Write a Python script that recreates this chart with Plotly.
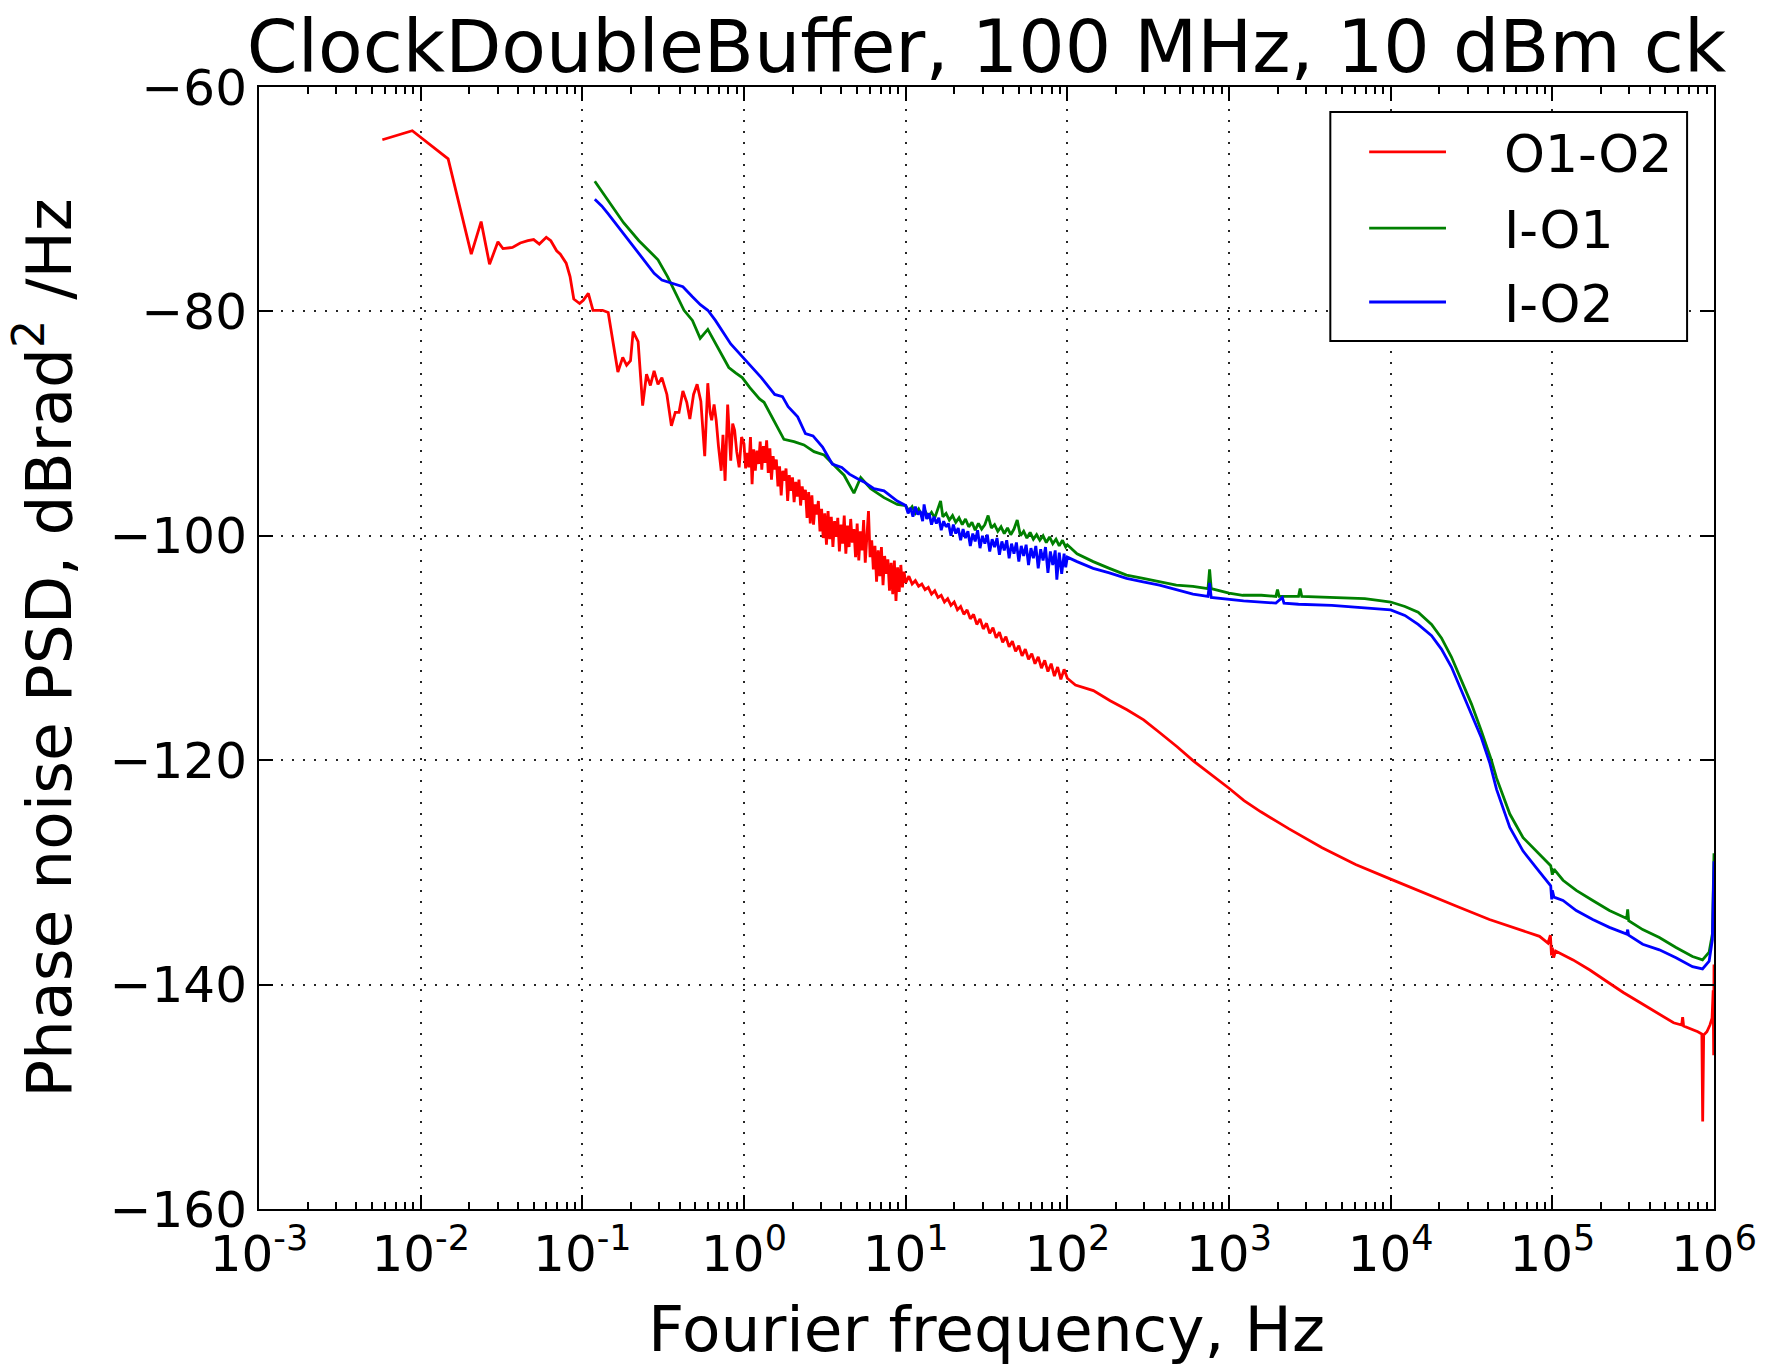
import plotly.graph_objects as go

# ---------------- data ----------------
# frequency given as log10(Hz) exponent, PSD in dBrad^2/Hz

o1o2_exp = [
    -2.237, -2.052, -1.830, -1.687, -1.626, -1.574, -1.522, -1.491, -1.432, -1.384,
    -1.337, -1.301, -1.266, -1.223, -1.195, -1.159, -1.136, -1.100, -1.076, -1.053,
    -1.017, -0.994, -0.963, -0.934, -0.875, -0.840, -0.780, -0.750, -0.726, -0.702,
    -0.686, -0.670, -0.655, -0.627, -0.603, -0.579, -0.556, -0.532, -0.508, -0.477,
    -0.449, -0.425, -0.402, -0.378, -0.354, -0.335, -0.312, -0.290, -0.267, -0.243,
    -0.224, -0.210, -0.200, -0.185, -0.172, -0.158, -0.141, -0.130, -0.117, -0.101,
    -0.090, -0.082, -0.070, -0.058, -0.045, -0.030, -0.015,
    0.00, 0.01, 0.02, 0.03, 0.04, 0.05, 0.06, 0.07, 0.08, 0.09,
    0.10, 0.11, 0.12, 0.13, 0.14, 0.15, 0.16, 0.17, 0.18, 0.19,
    0.20, 0.21, 0.22, 0.23, 0.24, 0.25, 0.26, 0.27, 0.28, 0.29,
    0.30, 0.31, 0.32, 0.33, 0.34, 0.35, 0.36, 0.37, 0.38, 0.39,
    0.40, 0.41, 0.42, 0.43, 0.44, 0.45, 0.46, 0.47, 0.48, 0.49,
    0.50, 0.51, 0.52, 0.53, 0.54, 0.55, 0.56, 0.57, 0.58, 0.59,
    0.60, 0.61, 0.62, 0.63, 0.64, 0.65, 0.66, 0.67, 0.68, 0.69,
    0.70, 0.71, 0.72, 0.73, 0.74, 0.75, 0.76, 0.77, 0.78, 0.79,
    0.80, 0.81, 0.82, 0.83, 0.84, 0.85, 0.86, 0.87, 0.88, 0.89,
    0.90, 0.91, 0.92, 0.93, 0.94, 0.95, 0.96, 0.97, 0.98, 0.99, 1.00,
    1.02, 1.04, 1.06, 1.08, 1.10, 1.12, 1.14, 1.16, 1.18, 1.20,
    1.22, 1.24, 1.26, 1.28, 1.30, 1.32, 1.34, 1.36, 1.38, 1.40,
    1.42, 1.44, 1.46, 1.48, 1.50, 1.52, 1.54, 1.56, 1.58, 1.60,
    1.62, 1.64, 1.66, 1.68, 1.70, 1.72, 1.74, 1.76, 1.78, 1.80,
    1.82, 1.84, 1.86, 1.88, 1.90, 1.92, 1.94, 1.96, 1.98, 2.00,
    2.05, 2.161, 2.265, 2.369, 2.472, 2.576, 2.679, 2.783, 2.886, 3.000,
    3.093, 3.197, 3.300, 3.369, 3.576, 3.783, 4.000, 4.197, 4.404, 4.611,
    4.818, 4.921, 4.973, 4.988, 4.995, 5.000, 5.008, 5.020, 5.128, 5.232,
    5.335, 5.439, 5.542, 5.646, 5.750, 5.800, 5.806, 5.812, 5.853, 5.900,
    5.925, 5.930, 5.936, 5.956, 5.975, 5.988, 5.995, 5.998, 6.000,
]
o1o2_psd = [
    -64.7, -63.9, -66.4, -74.9, -72.0, -75.8, -73.8, -74.4, -74.3, -73.9,
    -73.7, -73.6, -74.0, -73.4, -73.7, -74.6, -74.9, -75.7, -76.9, -78.9,
    -79.3, -79.0, -78.4, -79.9, -79.9, -80.1, -85.4, -84.1, -84.8, -84.4,
    -81.8, -82.3, -82.7, -88.4, -85.6, -86.6, -85.3, -86.5, -85.9, -87.4,
    -90.2, -89.0, -89.0, -87.1, -88.1, -89.6, -87.4, -86.5, -88.0, -92.9,
    -86.4, -89.0, -89.7, -88.3, -89.7, -92.0, -94.2, -91.0, -95.1, -88.3,
    -92.0, -93.3, -90.0, -90.6, -92.5, -93.9, -91.2,
    -91.8, -94.0, -92.6, -93.9, -91.2, -95.4, -92.3, -94.2, -92.4, -93.6,
    -91.6, -94.1, -92.0, -93.5, -91.5, -94.4, -92.2, -95.0, -92.9, -94.1,
    -93.2, -95.6, -93.8, -96.4, -94.2, -95.1, -94.0, -96.9, -94.6, -96.0,
    -94.8, -97.0, -95.2, -96.5, -95.0, -97.3, -95.6, -96.8, -95.9, -98.4,
    -96.1, -98.9, -96.4, -99.0, -97.2, -98.1, -96.9, -99.6, -97.6, -100.2,
    -98.0, -100.8, -97.8, -100.3, -98.3, -101.0, -98.7, -100.1, -98.4, -101.4,
    -99.0, -100.7, -98.2, -101.6, -99.1, -101.0, -98.5, -100.6, -99.4, -101.9,
    -98.9, -102.2, -99.6, -101.3, -98.6, -102.4, -100.2, -97.8, -101.9, -100.4,
    -103.0, -100.9, -104.1, -101.3, -103.6, -101.0, -104.4, -101.8, -103.4, -102.1,
    -104.9, -102.4, -105.2, -102.2, -105.8, -102.8, -105.0, -102.6, -104.6, -103.2, -104.2,
    -103.6, -104.3, -104.0, -104.5, -104.3, -104.8, -104.6, -105.2, -104.9, -105.5,
    -105.3, -105.9, -105.6, -106.2, -105.9, -106.6, -106.3, -107.0, -106.6, -107.4,
    -107.0, -107.9, -107.4, -108.3, -107.8, -108.7, -108.2, -109.1, -108.6, -109.5,
    -109.0, -109.9, -109.4, -110.3, -109.8, -110.7, -110.1, -111.0, -110.5, -111.4,
    -110.8, -111.8, -111.1, -112.1, -111.4, -112.5, -111.7, -112.8, -111.9, -112.7,
    -113.3, -113.8, -114.7, -115.5, -116.4, -117.6, -118.8, -120.1, -121.2, -122.5,
    -123.6, -124.6, -125.5, -126.1, -127.8, -129.3, -130.6, -131.8, -133.0, -134.2,
    -135.2, -135.7, -136.3, -135.6, -137.4, -136.7, -137.6, -137.0, -137.8, -138.7,
    -139.7, -140.7, -141.6, -142.5, -143.4, -143.6, -142.9, -143.7, -143.9, -144.2,
    -144.4, -152.2, -144.5, -144.2, -143.6, -143.0, -140.5, -146.3, -138.2,
]

io1_exp = [
    -0.923, -0.880, -0.840, -0.745, -0.650, -0.590, -0.532, -0.473, -0.425, -0.371,
    -0.319, -0.271, -0.224, -0.165, -0.094, -0.050, -0.011, 0.036, 0.096, 0.124,
    0.186, 0.247, 0.309, 0.371, 0.433, 0.495, 0.577, 0.619, 0.680, 0.722,
    0.784, 0.866, 0.948,
    1.00, 1.02, 1.04, 1.06, 1.08, 1.10, 1.12, 1.14, 1.16, 1.18,
    1.20, 1.216, 1.23, 1.25, 1.27, 1.29, 1.31, 1.33, 1.35, 1.37,
    1.39, 1.41, 1.43, 1.45, 1.47, 1.49, 1.51, 1.53, 1.55, 1.57,
    1.59, 1.61, 1.63, 1.65, 1.67, 1.69, 1.71, 1.73, 1.75, 1.77,
    1.79, 1.81, 1.83, 1.85, 1.87, 1.89, 1.91, 1.93, 1.95, 1.97,
    1.99, 2.00,
    2.06, 2.16, 2.26, 2.366, 2.469, 2.57, 2.674, 2.777, 2.87, 2.88,
    2.89, 3.00, 3.085, 3.20, 3.29, 3.30, 3.31, 3.43, 3.44, 3.45,
    3.636, 3.84, 3.945, 4.00, 4.088, 4.17, 4.253, 4.314, 4.376, 4.438,
    4.50, 4.561, 4.623, 4.655, 4.737, 4.819, 4.901, 4.963, 4.99, 5.00,
    5.01, 5.066, 5.148, 5.25, 5.353, 5.46, 5.466, 5.472, 5.559, 5.662,
    5.765, 5.867, 5.929, 5.97, 5.99, 6.00,
]
io1_psd = [
    -68.4, -69.3, -70.1, -72.1, -73.7, -74.6, -75.4, -76.9, -78.3, -79.9,
    -80.8, -82.4, -81.6, -83.2, -85.0, -85.5, -85.9, -86.8, -87.8, -88.1,
    -89.8, -91.4, -91.6, -91.9, -92.5, -92.8, -94.0, -94.6, -96.2, -94.8,
    -95.8, -96.6, -97.2,
    -97.3, -97.8, -97.4, -98.0, -97.6, -98.2, -97.8, -98.3, -97.9, -98.4,
    -97.5, -96.9, -98.3, -98.0, -98.6, -98.2, -98.8, -98.4, -99.0, -98.5,
    -99.2, -98.8, -99.5, -98.9, -99.4, -99.0, -98.2, -99.3, -99.0, -99.6,
    -99.2, -99.8, -99.3, -99.9, -99.4, -98.6, -100.0, -99.6, -100.2, -99.7,
    -100.3, -99.9, -100.4, -100.0, -100.6, -100.1, -100.7, -100.3, -100.9, -100.4,
    -101.0, -100.8,
    -101.6, -102.3, -102.9, -103.5, -103.8, -104.1, -104.4, -104.5, -104.7, -103.0,
    -104.7, -105.1, -105.3, -105.3, -105.4, -104.8, -105.4, -105.4, -104.7, -105.4,
    -105.5, -105.6, -105.8, -105.9, -106.3, -106.8, -107.9, -109.1, -110.8, -112.9,
    -115.0, -117.4, -120.0, -121.6, -124.8, -126.9, -128.1, -129.0, -129.4, -130.2,
    -129.7, -130.7, -131.6, -132.5, -133.4, -134.1, -133.3, -134.3, -135.1, -135.8,
    -136.7, -137.5, -137.8, -137.1, -135.5, -128.3,
]

io2_exp = [
    -0.923, -0.880, -0.840, -0.745, -0.638, -0.556, -0.508, -0.437, -0.378, -0.319,
    -0.270, -0.224, -0.177, -0.082, 0.012, 0.107, 0.190, 0.238, 0.273, 0.332,
    0.380, 0.427, 0.486, 0.546, 0.605, 0.652, 0.700, 0.742, 0.804, 0.866,
    0.948,
    1.000, 1.015, 1.030, 1.045, 1.060, 1.075, 1.090, 1.105, 1.114, 1.130,
    1.145, 1.160, 1.175, 1.190, 1.205, 1.220, 1.235, 1.250, 1.265, 1.280,
    1.295, 1.310, 1.325, 1.340, 1.355, 1.370, 1.385, 1.400, 1.415, 1.430,
    1.445, 1.460, 1.475, 1.490, 1.505, 1.520, 1.535, 1.550, 1.565, 1.580,
    1.595, 1.610, 1.625, 1.640, 1.655, 1.670, 1.685, 1.700, 1.715, 1.730,
    1.745, 1.760, 1.775, 1.790, 1.805, 1.820, 1.835, 1.850, 1.865, 1.880,
    1.895, 1.910, 1.925, 1.935, 1.950, 1.965, 1.980, 1.990, 2.000,
    2.06, 2.16, 2.26, 2.366, 2.469, 2.57, 2.674, 2.777, 2.87, 2.88,
    2.89, 3.00, 3.09, 3.29, 3.33, 3.34, 3.43, 3.636, 3.84, 4.00,
    4.088, 4.17, 4.253, 4.314, 4.376, 4.438, 4.50, 4.561, 4.612, 4.655,
    4.737, 4.819, 4.901, 4.963, 4.99, 4.996, 5.00, 5.01, 5.066, 5.148,
    5.25, 5.353, 5.46, 5.466, 5.472, 5.559, 5.662, 5.765, 5.867, 5.929,
    5.97, 5.99, 6.00,
]
io2_psd = [
    -70.0, -70.6, -71.3, -73.1, -75.1, -76.6, -77.2, -77.5, -77.8, -78.7,
    -79.4, -79.9, -80.8, -82.9, -84.4, -85.9, -87.4, -87.6, -88.5, -89.4,
    -90.9, -91.1, -92.1, -93.6, -93.9, -94.5, -94.9, -95.2, -95.8, -96.0,
    -96.9,
    -97.3, -98.0, -97.5, -98.3, -97.4, -98.1, -97.8, -98.7, -97.2, -98.5,
    -98.0, -99.0, -98.3, -98.9, -98.4, -99.5, -98.7, -99.2, -98.9, -100.0,
    -99.0, -99.8, -99.3, -100.4, -99.4, -100.2, -99.6, -100.9, -99.8, -100.5,
    -99.5, -101.1, -100.0, -100.7, -99.9, -101.4, -100.3, -101.0, -100.2, -101.7,
    -100.5, -101.3, -100.4, -102.0, -100.7, -101.6, -100.6, -102.3, -100.9, -101.8,
    -100.8, -102.6, -101.1, -102.0, -100.9, -102.9, -101.2, -102.2, -101.0, -103.3,
    -101.4, -102.6, -101.3, -103.9, -101.5, -103.4, -101.6, -102.8, -101.9,
    -102.3, -102.9, -103.3, -103.8, -104.1, -104.4, -104.8, -105.2, -105.4, -104.2,
    -105.5, -105.7, -105.8, -106.0, -105.5, -106.0, -106.1, -106.2, -106.4, -106.6,
    -107.1, -107.9, -108.9, -110.1, -111.7, -113.8, -115.9, -118.0, -120.2, -122.6,
    -126.0, -128.1, -129.6, -130.7, -131.2, -132.4, -131.6, -132.2, -132.5, -133.4,
    -134.2, -134.9, -135.5, -135.1, -135.6, -136.4, -136.9, -137.6, -138.4, -138.6,
    -137.9, -136.0, -129.0,
]

series_names = ["O1-O2", "I-O1", "I-O2"]
series_colors = ["#ff0000", "#008000", "#0000ff"]

x_tick_exps = [-3, -2, -1, 0, 1, 2, 3, 4, 5, 6]
y_ticks = [-160, -140, -120, -100, -80, -60]

title_text = "ClockDoubleBuffer, 100 MHz, 10 dBm ck"
x_label = "Fourier frequency, Hz"
y_label = "Phase noise PSD, dBrad<sup>2</sup> /Hz"

# ---------------- figure ----------------
FONT = "DejaVu Sans"
LW = 2.8
fig = go.Figure()
series = [
    (series_names[0], series_colors[0], o1o2_exp, o1o2_psd),
    (series_names[1], series_colors[1], io1_exp, io1_psd),
    (series_names[2], series_colors[2], io2_exp, io2_psd),
]
for name, color, ex, ps in series:
    fig.add_trace(go.Scatter(
        x=[10 ** e for e in ex], y=ps, mode="lines", name=name,
        line=dict(color=color, width=LW), showlegend=False,
    ))

# legend box drawn like matplotlib's (frame, long line samples, text)
leg_x0, leg_x1 = 0.7363, 0.9815
leg_y0, leg_y1 = 0.7736, 0.9777
leg_rows = [0.9421, 0.8743, 0.8084]
shapes = [dict(type="rect", xref="paper", yref="paper",
               x0=leg_x0, x1=leg_x1, y0=leg_y0, y1=leg_y1,
               line=dict(color="black", width=2), fillcolor="white", layer="above")]
annotations = []
for (name, color, _, _), ry in zip(series, leg_rows):
    shapes.append(dict(type="line", xref="paper", yref="paper",
                       x0=0.763, x1=0.8158, y0=ry, y1=ry,
                       line=dict(color=color, width=LW), layer="above"))
    annotations.append(dict(text=name, xref="paper", yref="paper",
                            x=0.8541, y=ry - 0.002, xanchor="left", yanchor="middle",
                            showarrow=False,
                            font=dict(size=52, family=FONT, color="black")))

minor_vals = [m * 10 ** e for e in x_tick_exps[:-1] for m in range(2, 10)]

fig.update_layout(
    width=1769, height=1368,
    paper_bgcolor="white", plot_bgcolor="white",
    margin=dict(l=259, r=50, t=87, b=159),
    font=dict(family=FONT, color="black"),
    title=dict(text=title_text, font=dict(size=73, family=FONT, color="black"),
               x=0.5, xref="paper", xanchor="center",
               y=1 - 46 / 1368, yref="container", yanchor="middle"),
    showlegend=False,
    shapes=shapes,
    annotations=annotations,
)

fig.update_xaxes(
    type="log", range=[-3, 6],
    tickmode="array",
    tickvals=[10 ** e for e in x_tick_exps],
    ticktext=["10<sup>%d</sup>" % e for e in x_tick_exps],
    tickfont=dict(size=50, family=FONT, color="black"),
    ticks="inside", ticklen=14, tickwidth=1.5, tickcolor="black",
    showline=True, linecolor="black", linewidth=2, mirror="ticks",
    showgrid=True, gridcolor="rgba(0,0,0,0.85)", gridwidth=1.5, griddash="2px,9px",
    zeroline=False,
    minor=dict(tickmode="array", tickvals=minor_vals, ticks="inside",
               ticklen=7, tickwidth=1.5, tickcolor="black", showgrid=False),
    title=dict(text=x_label, font=dict(size=63, family=FONT, color="black"), standoff=25),
)
fig.update_yaxes(
    range=[-160, -60],
    tickmode="array", tickvals=y_ticks,
    ticktext=["\u2212%d" % abs(v) for v in y_ticks],
    tickfont=dict(size=50, family=FONT, color="black"),
    ticks="inside", ticklen=14, tickwidth=1.5, tickcolor="black",
    showline=True, linecolor="black", linewidth=2, mirror="ticks",
    showgrid=True, gridcolor="rgba(0,0,0,0.85)", gridwidth=1.5, griddash="2px,9px",
    zeroline=False,
    title=dict(text=y_label, font=dict(size=63, family=FONT, color="black"), standoff=18),
)

fig.write_html("out.html")
